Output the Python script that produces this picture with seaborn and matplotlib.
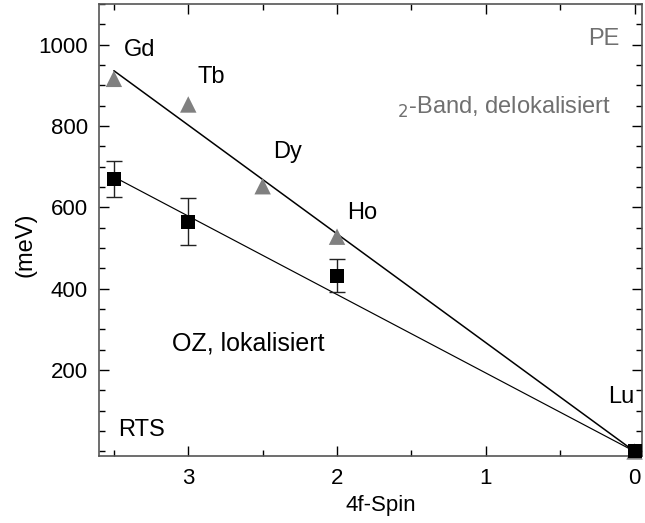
import matplotlib
matplotlib.use("Agg")
import matplotlib.pyplot as plt
from matplotlib.ticker import MultipleLocator
import seaborn as sns
import pandas as pd

# data
pe_spin = [3.5, 3.0, 2.5, 2.0, 0.0]
pe_energy = [916, 853, 652, 528, 0]
rts_spin = [3.5, 3.0, 2.0, 0.0]
rts_energy = [670, 565, 432, 0]
rts_err = [45, 57, 40, 0]
fit_spin = [3.5, 0.0]
fit_pe = [936, 0]
fit_rts = [675, 0]
element_labels = ["Gd", "Tb", "Dy", "Ho", "Lu"]

sns.set_theme(style="white")
plt.rcParams['font.family'] = ['Liberation Sans', 'DejaVu Sans']
plt.rcParams['text.color'] = 'black'
plt.rcParams['axes.labelcolor'] = 'black'
plt.rcParams['xtick.labelcolor'] = 'black'
plt.rcParams['ytick.labelcolor'] = 'black'

W, H = 645, 523
fig = plt.figure(figsize=(W / 100, H / 100), dpi=100)
L, R, T, B = 99, 642, 4, 455.5
ax = fig.add_axes([L / W, 1 - B / H, (R - L) / W, (B - T) / H])

df_fit = pd.DataFrame({"spin": fit_spin * 2, "E": fit_pe + fit_rts,
                       "fit": ["pe"] * 2 + ["rts"] * 2})
sns.lineplot(data=df_fit[df_fit.fit == "pe"], x="spin", y="E", color="black",
             lw=1.1, ax=ax, sort=False)
sns.lineplot(data=df_fit[df_fit.fit == "rts"], x="spin", y="E", color="black",
             lw=0.85, ax=ax, sort=False)

eb = ax.errorbar(rts_spin[:-1], rts_energy[:-1], yerr=rts_err[:-1], fmt="none",
                 ecolor="#222222", elinewidth=1.0, capsize=5.8, capthick=1.0,
                 zorder=3)
for cl in eb[1]:
    cl.set_color("#555555")

sns.scatterplot(x=pe_spin, y=pe_energy, marker="^", s=140, color="#808080",
                edgecolor="none", ax=ax, zorder=4, clip_on=False)
sns.scatterplot(x=rts_spin, y=rts_energy, marker="s", s=100, color="black",
                edgecolor="none", ax=ax, zorder=5, clip_on=False)

ax.set_xlim(3.6, -0.05)
ax.set_ylim(-10, 1100)
ax.xaxis.set_major_locator(MultipleLocator(1))
ax.xaxis.set_minor_locator(MultipleLocator(0.5))
ax.yaxis.set_minor_locator(MultipleLocator(50))
ax.set_yticks([200, 400, 600, 800, 1000])
ax.set_xticks([3, 2, 1, 0])
ax.tick_params(which="both", direction="in", top=True, right=True,
               bottom=True, left=True, color="black", labelsize=16,
               labelcolor="black")
ax.tick_params(which="major", length=7, width=1)
ax.tick_params(which="minor", length=4, width=1)
ax.tick_params(axis="y", pad=8)
ax.tick_params(axis="x", pad=9)
for sp in ax.spines.values():
    sp.set_color("#555555")
    sp.set_linewidth(1.2)

ax.set_xlabel("4f-Spin", fontsize=16, color="black")
ax.xaxis.label.set_va("center")
ax.xaxis.set_label_coords((381 - L) / (R - L), (B - 506) / (B - T))
ax.set_ylabel("(meV)", fontsize=17, color="black")
ax.yaxis.label.set_va("center")
ax.yaxis.set_label_coords((25 - L) / (R - L), (B - 245) / (B - T))


def put(px, py, s, color="black", size=17):
    fig.text(px / W, 1 - py / H, s, fontsize=size, color=color,
             ha="left", va="center")


lab_px = [(124, 50), (197, 77), (273, 152), (347, 213), (608, 397)]
for t, (px, py) in zip(element_labels, lab_px):
    put(px, py, t)

put(588, 39, "PE", color="#707070")
put(397, 107, "$_2$-Band, delokalisiert", color="#707070")
put(172, 343, "OZ, lokalisiert", size=18)
put(118, 430, "RTS")

fig.savefig("out.png", dpi=100)
